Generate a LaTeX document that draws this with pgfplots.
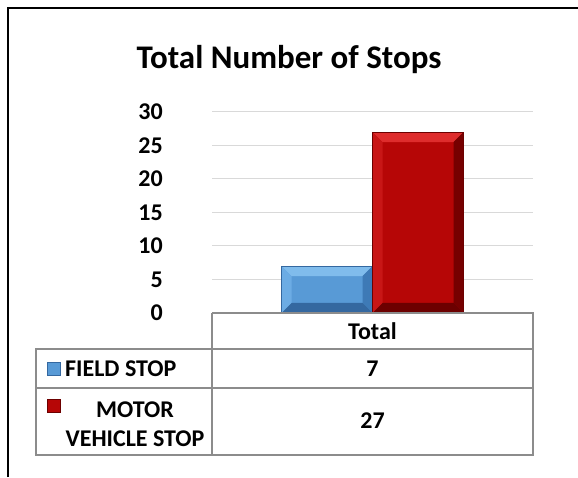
\documentclass[border=0pt]{standalone}
\usepackage{pgfplots}
\pgfplotsset{compat=1.18}
\usepackage{fontspec}
\setmainfont{Carlito}
\definecolor{blueface}{RGB}{88,154,214}
\definecolor{bluetop}{RGB}{128,188,236}
\definecolor{blueleft}{RGB}{108,172,228}
\definecolor{blueright}{RGB}{62,122,182}
\definecolor{bluebot}{RGB}{52,104,160}
\definecolor{redface}{RGB}{182,6,6}
\definecolor{redtop}{RGB}{222,44,44}
\definecolor{redleft}{RGB}{200,22,22}
\definecolor{redright}{RGB}{118,0,0}
\definecolor{redbot}{RGB}{108,0,0}
\definecolor{tablegray}{RGB}{140,140,140}
\definecolor{gridgray}{RGB}{217,217,217}
\newcommand\PA[1]{\pgfpointanchor{path picture bounding box}{#1}}
\newcommand\PS[3]{\pgfpointadd{\PA{#1}}{\pgfpoint{#2}{#3}}}
\newcommand\bevelfill[4]{%
  \pgfpathmoveto{\PA{north west}}\pgfpathlineto{\PA{north east}}%
  \pgfpathlineto{\PS{north east}{-10pt}{-10pt}}\pgfpathlineto{\PS{north west}{10pt}{-10pt}}\pgfpathclose
  \pgfsetfillcolor{#1}\pgfusepath{fill}%
  \pgfpathmoveto{\PA{north west}}\pgfpathlineto{\PS{north west}{10pt}{-10pt}}%
  \pgfpathlineto{\PS{south west}{10pt}{10pt}}\pgfpathlineto{\PA{south west}}\pgfpathclose
  \pgfsetfillcolor{#2}\pgfusepath{fill}%
  \pgfpathmoveto{\PA{north east}}\pgfpathlineto{\PA{south east}}%
  \pgfpathlineto{\PS{south east}{-10pt}{10pt}}\pgfpathlineto{\PS{north east}{-10pt}{-10pt}}\pgfpathclose
  \pgfsetfillcolor{#3}\pgfusepath{fill}%
  \pgfpathmoveto{\PA{south west}}\pgfpathlineto{\PA{south east}}%
  \pgfpathlineto{\PS{south east}{-10pt}{10pt}}\pgfpathlineto{\PS{south west}{10pt}{10pt}}\pgfpathclose
  \pgfsetfillcolor{#4}\pgfusepath{fill}%
}
\begin{document}
\begin{tikzpicture}[x=1pt,y=1pt]
\path[use as bounding box] (0,0) rectangle (578,477);
\draw[line width=2.5pt] (8,0) -- (8,469) -- (578,469);
\node[font=\fontsize{33}{40}\selectfont\bfseries] at (289,417) {Total Number of Stops};
\begin{axis}[
  at={(212pt,164pt)}, anchor=south west,
  scale only axis, width=321pt, height=201pt,
  ymin=0, ymax=30, xmin=-0.5, xmax=0.5,
  ybar=0pt, bar width=91pt,
  ytick={0,5,...,30}, xtick=\empty,
  ymajorgrids, grid style={color=gridgray, line width=1pt},
  axis line style={draw=none},
  major tick length=0pt,
  /pgf/number format/assume math mode=true,
  yticklabel style={font=\fontsize{24}{29}\selectfont\bfseries, inner sep=0pt, xshift=-49pt},
]
\addplot[fill=blueface, draw=bluebot, line width=0.6pt, path picture={\bevelfill{bluetop}{blueleft}{blueright}{bluebot}}] coordinates {(0,7)};
\addplot[fill=redface, draw=redbot, line width=0.6pt, path picture={\bevelfill{redtop}{redleft}{redright}{redbot}}] coordinates {(0,27)};
\end{axis}
\begin{scope}[draw=tablegray, line width=1.5pt]
\draw (212,164) -- (533,164) -- (533,22) -- (36,22) -- (36,128) -- (533,128);
\draw (212,164) -- (212,22);
\draw (36,89) -- (533,89);
\end{scope}
\begin{scope}[font=\fontsize{24}{29}\selectfont\bfseries]
\node at (372.5,146) {Total};
\node[anchor=west, inner sep=0pt] at (65,108) {FIELD STOP};
\node at (372.5,108) {7};
\node[align=center, inner sep=0pt] at (135,53) {MOTOR\\VEHICLE STOP};
\node at (372.5,56) {27};
\end{scope}
\fill[blueface, draw=bluebot, line width=0.6pt] (47.5,101.5) rectangle (60.5,114.5);
\fill[redface, draw=redbot, line width=0.6pt] (47.5,64.5) rectangle (60.5,77.5);
\end{tikzpicture}
\end{document}
